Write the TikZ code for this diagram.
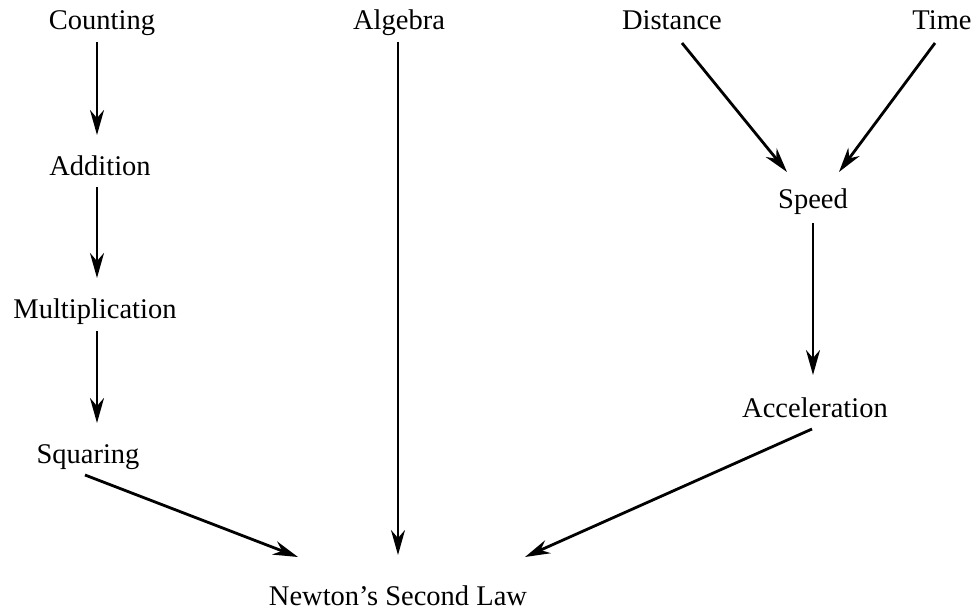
\documentclass[tikz,border=0pt]{standalone}
\usepackage{fontspec}
\setmainfont{Liberation Serif}
\usetikzlibrary{arrows.meta,calc}
\begin{document}
\begin{tikzpicture}[x=1pt,y=-1pt,
  lbl/.style={anchor=base,inner sep=0pt,font=\fontsize{28.5}{34}\selectfont},
  arr/.style={line width=2.8pt,-{Stealth[length=25pt,width=14pt,inset=8pt]}}]
\useasboundingbox[fill=white] (0,0) rectangle (975,610);
\node[lbl] (counting) at (102,30) {Counting};
\node[lbl] (algebra) at (399,30) {Algebra};
\node[lbl] (distance) at (672,30) {Distance};
\node[lbl] (time) at (942,30) {Time};
\node[lbl] (addition) at (100,175) {Addition};
\node[lbl] (speed) at (813,208) {Speed};
\node[lbl] (mult) at (95,318) {Multiplication};
\node[lbl] (accel) at (815,417) {Acceleration};
\node[lbl] (squaring) at (88,463) {Squaring};
\node[lbl] (newton) at (398,605) {Newton’s Second Law};
\draw[arr] ($(counting.base)+(-5,12)$) -- ($(addition.base)+(-3,-40)$);
\draw[arr] ($(addition.base)+(-3,12)$) -- ($(mult.base)+(2,-40)$);
\draw[arr] ($(mult.base)+(2,13)$) -- ($(squaring.base)+(9,-40)$);
\draw[arr] ($(squaring.base)+(-3,12)$) -- ($(newton.base)+(-100,-48)$);
\draw[arr,line width=2.3pt] ($(algebra.base)+(-1,12)$) -- ($(newton.base)+(0,-50)$);
\draw[arr] ($(distance.base)+(10,13)$) -- ($(speed.base)+(-26,-36)$);
\draw[arr] ($(time.base)+(-7,13)$) -- ($(speed.base)+(26,-36)$);
\draw[arr] ($(speed.base)+(0,15)$) -- ($(accel.base)+(-2,-42)$);
\draw[arr] ($(accel.base)+(-3,12)$) -- ($(newton.base)+(127,-48)$);
\end{tikzpicture}
\end{document}
